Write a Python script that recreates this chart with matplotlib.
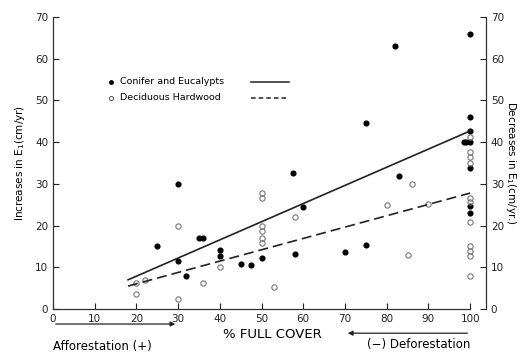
import numpy as np
import matplotlib.pyplot as plt

# conifer and eucalypts (filled dots)
con_x = [25, 30, 30, 32, 35, 36, 40, 40, 45, 47.5, 50, 57.5, 58, 60, 70, 75, 75, 82, 83,
         98.5, 99, 100, 100, 100, 100, 100, 100, 100]
con_y = [15, 30, 11.5, 7.8, 17, 17, 14.2, 12.8, 10.8, 10.6, 12.2, 32.5, 13.3, 24.5, 13.7, 15.4, 44.5, 63, 32,
         40, 40, 40, 66, 46, 42.7, 33.7, 24.8, 23]

# deciduous hardwood (open circles)
dec_x = [20, 20, 22, 30, 30, 36, 40, 50, 50, 50, 50, 50, 50, 53, 58, 80, 85, 86, 90,
         100, 100, 100, 100, 100, 100, 100, 100, 100, 100, 100]
dec_y = [3.7, 6.3, 7, 20, 2.3, 6.2, 10, 27.8, 26.6, 19.8, 18.6, 17, 15.8, 5.2, 22, 25, 13, 30, 25.2,
         41.3, 37.7, 36.5, 34.9, 26.6, 25.6, 20.8, 15, 13.8, 12.8, 7.8]

# fitted lines (end points)
fit_x = [18, 100]
con_fit = [7.0, 42.7]
dec_fit = [5.5, 27.8]

ticks = [0, 10, 20, 30, 40, 50, 60, 70, 80, 90, 100]
yticks = [0, 10, 20, 30, 40, 50, 60, 70]

fig = plt.figure(figsize=(5.22, 3.56), dpi=100)
ax = fig.add_axes([0.1015, 0.132, 0.8295, 0.82])
ax.set_xlim(0, 103.8)
ax.set_ylim(0, 70)

ax.plot(con_x, con_y, 'o', color='black', markersize=3.4)
ax.plot(dec_x, dec_y, 'o', markerfacecolor='none', markeredgecolor='#777777', markersize=3.8, markeredgewidth=0.8)
ax.plot(fit_x, con_fit, '-', color='#222222', lw=1.2)
ax.plot(fit_x, dec_fit, '--', color='#222222', lw=1.2, dashes=(6, 3))

ax.spines['top'].set_visible(False)
ax.spines['right'].set_visible(False)
ax.spines['bottom'].set_bounds(0, 100)
for s in ['left', 'bottom']:
    ax.spines[s].set_color('#333333')
    ax.spines[s].set_linewidth(0.9)

ax.set_xticks(ticks)
ax.set_yticks(yticks)
ax.tick_params(direction='in', labelsize=7.5, colors='#222222', length=4)
ax.set_ylabel('Increases in E$_1$(cm/yr)', fontsize=7.5, labelpad=6)

# right hand axis
ax2 = ax.twinx()
ax2.set_ylim(0, 70)
ax2.set_yticks(yticks)
ax2.tick_params(direction='in', labelsize=7.5, colors='#222222', length=4)
for s in ['top', 'left', 'bottom']:
    ax2.spines[s].set_visible(False)
ax2.spines['right'].set_color('#333333')
ax2.spines['right'].set_linewidth(0.9)
ax2.set_ylabel('Decreases in E$_1$(cm/yr.)', fontsize=7.5, rotation=-90, labelpad=10)

# legend drawn by hand: marker, label, line
ax.plot([14], [54.5], 'o', color='black', markersize=2.5)
ax.text(16, 54.5, 'Conifer and Eucalypts', fontsize=6.8, va='center')
ax.plot([47.5, 56.5], [54.5, 54.5], '-', color='#222222', lw=1.1)
ax.plot([14], [50.7], 'o', markerfacecolor='none', markeredgecolor='#555555', markersize=3, markeredgewidth=0.7)
ax.text(16, 50.7, 'Deciduous Hardwood', fontsize=6.8, va='center')
ax.plot([47.5, 56.5], [50.7, 50.7], '--', color='#222222', lw=1.1, dashes=(3, 2))

# bottom annotations
ax.text(52.5, -6.0, '% FULL COVER', fontsize=9.5, ha='center', va='center')
ax.annotate('', xy=(30, -3.6), xytext=(0, -3.6), xycoords='data',
            arrowprops=dict(arrowstyle='-|>', color='#222222', lw=0.9, mutation_scale=7),
            annotation_clip=False)
ax.annotate('', xy=(70, -5.8), xytext=(100, -5.8), xycoords='data',
            arrowprops=dict(arrowstyle='-|>', color='#222222', lw=0.9, mutation_scale=7),
            annotation_clip=False)
ax.text(0, -8.9, 'Afforestation (+)', fontsize=8.5, ha='left', va='center')
ax.text(100, -8.6, '(\u2212) Deforestation', fontsize=8.5, ha='right', va='center')

plt.savefig('out.png', dpi=100)
